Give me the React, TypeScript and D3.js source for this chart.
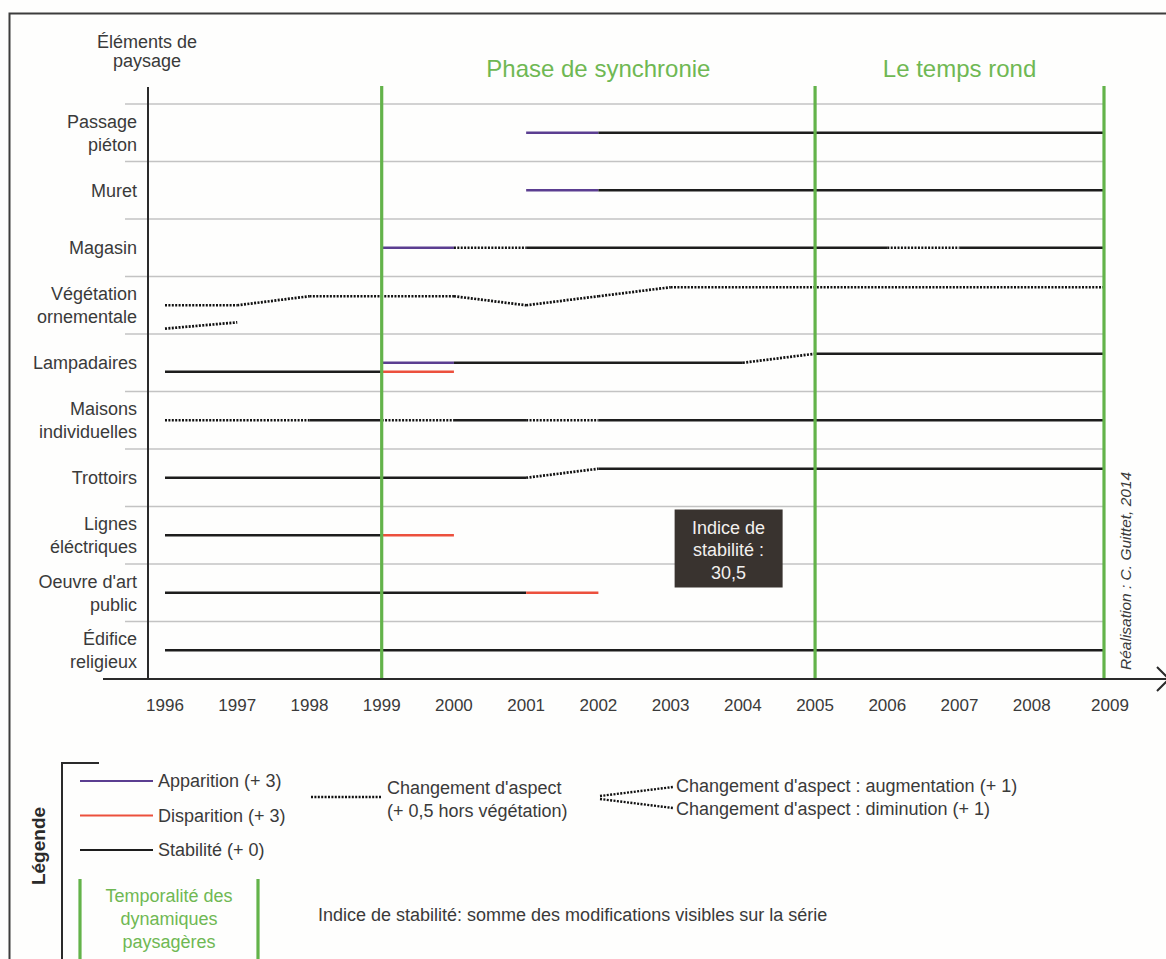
import React from 'react';
import * as d3 from 'd3';

// Timeline (tick labels)
const YEARS = [1996, 1997, 1998, 1999, 2000, 2001, 2002, 2003, 2004, 2005, 2006, 2007, 2008, 2009];

// Landscape elements, one row each (label split on lines)
const ELEMENTS = [
  ['Passage', 'piéton'],
  ['Muret'],
  ['Magasin'],
  ['Végétation', 'ornementale'],
  ['Lampadaires'],
  ['Maisons', 'individuelles'],
  ['Trottoirs'],
  ['Lignes', 'éléctriques'],
  ["Oeuvre d'art", 'public'],
  ['Édifice', 'religieux'],
];

// Phases bounded by the green lines
const PHASES = [
  { label: 'Phase de synchronie', from: 1999, to: 2005 },
  { label: 'Le temps rond', from: 2005, to: 2009 },
];

// [row, fromYear, toYear, kind, levelStart, levelEnd]
// kind: app = apparition, dis = disparition, stab = stabilité, asp = changement d'aspect
const SEGMENTS: [number, number, number, string, number, number][] = [
  [0, 2001, 2002, 'app', 0, 0],
  [0, 2002, 2009, 'stab', 0, 0],
  [1, 2001, 2002, 'app', 0, 0],
  [1, 2002, 2009, 'stab', 0, 0],
  [2, 1999, 2000, 'app', 0, 0],
  [2, 2000, 2001, 'asp', 0, 0],
  [2, 2001, 2006, 'stab', 0, 0],
  [2, 2006, 2007, 'asp', 0, 0],
  [2, 2007, 2009, 'stab', 0, 0],
  [3, 1996, 1997, 'asp', 0, 0],
  [3, 1997, 1998, 'asp', 0, 1],
  [3, 1998, 2000, 'asp', 1, 1],
  [3, 2000, 2001, 'asp', 1, 0],
  [3, 2001, 2002, 'asp', 0, 1],
  [3, 2002, 2003, 'asp', 1, 2],
  [3, 2003, 2009, 'asp', 2, 2],
  [3, 1996, 1997, 'asp', -2.6, -1.9],
  [4, 1996, 1999, 'stab', -1, -1],
  [4, 1999, 2000, 'app', 0, 0],
  [4, 1999, 2000, 'dis', -1, -1],
  [4, 2000, 2004, 'stab', 0, 0],
  [4, 2004, 2005, 'asp', 0, 1],
  [4, 2005, 2009, 'stab', 1, 1],
  [5, 1996, 1998, 'asp', 0, 0],
  [5, 1998, 1999, 'stab', 0, 0],
  [5, 1999, 2000, 'asp', 0, 0],
  [5, 2000, 2001, 'stab', 0, 0],
  [5, 2001, 2002, 'asp', 0, 0],
  [5, 2002, 2009, 'stab', 0, 0],
  [6, 1996, 2001, 'stab', 0, 0],
  [6, 2001, 2002, 'asp', 0, 1],
  [6, 2002, 2009, 'stab', 1, 1],
  [7, 1996, 1999, 'stab', 0, 0],
  [7, 1999, 2000, 'dis', 0, 0],
  [8, 1996, 2001, 'stab', 0, 0],
  [8, 2001, 2002, 'dis', 0, 0],
  [9, 1996, 2009, 'stab', 0, 0],
];

const LEGEND_ITEMS = [
  { kind: 'app', label: 'Apparition (+ 3)' },
  { kind: 'dis', label: 'Disparition (+ 3)' },
  { kind: 'stab', label: 'Stabilité (+ 0)' },
];

const STABILITY_INDEX = 30.5;

const W = 1166;
const H = 959;
const FONT = '"Liberation Sans", Arial, Helvetica, sans-serif';
const TEXT = '#3a3a3a';
const GREEN_LINE = '#63b34a';
const GREEN_TEXT = '#6fb853';
const COLORS: Record<string, string> = {
  app: '#5b3e91',
  dis: '#ec503d',
  stab: '#1d1d1d',
  asp: '#111111',
};
const DOTS = '2 1.4';

export default function App() {
  const x = d3.scaleLinear().domain([1996, 2009]).range([165, 1104]);
  const y = d3
    .scaleBand<string>()
    .domain(ELEMENTS.map((_, i) => String(i)))
    .range([104, 679]);
  const bw = y.bandwidth();
  const level = d3.scaleLinear().domain([-1, 1]).range([9, -9]);
  const rowY = (row: number, l: number) => (y(String(row)) as number) + bw / 2 + level(l);
  const line = d3.line<[number, number]>();

  const axisY = 679;
  const box = { x: x(2003) + 4, y: (y('7') as number) + 3, w: 108, h: 78 };

  return (
    <div style={{ position: 'absolute', left: 0, top: 0 }}>
      <svg width={W} height={H} style={{ display: 'block', background: '#fefefd' }} fontFamily={FONT}>
        {/* frame */}
        <rect x={9.5} y={13.5} width={1200} height={1000} fill="none" stroke="#3d3d3d" strokeWidth={2} />

        {/* header */}
        <text x={147} y={48} textAnchor="middle" fontSize={18} fill={TEXT}>Éléments de</text>
        <text x={147} y={67} textAnchor="middle" fontSize={18} fill={TEXT}>paysage</text>

        {/* row separators */}
        {ELEMENTS.map((_, i) => (
          <line key={'sep' + i} x1={125} x2={x(2009)} y1={y(String(i))} y2={y(String(i))} stroke="#c3c3c3" strokeWidth={1.5} />
        ))}

        {/* row labels */}
        {ELEMENTS.map((lines, i) => {
          const c = (y(String(i)) as number) + bw / 2;
          const first = lines.length === 1 ? c + 6.5 : c - 5;
          return (
            <text key={'lab' + i} textAnchor="end" fontSize={18} fill={TEXT}>
              {lines.map((t, j) => (
                <tspan key={j} x={137} y={first + j * 23}>{t}</tspan>
              ))}
            </text>
          );
        })}

        {/* segments */}
        {SEGMENTS.map(([row, a, b, kind, l0, l1], i) => (
          <path
            key={'seg' + i}
            d={line([[x(a), rowY(row, l0)], [x(b), rowY(row, l1)]]) as string}
            stroke={COLORS[kind]}
            strokeWidth={kind === 'asp' ? 2.7 : 2.4}
            strokeDasharray={kind === 'asp' ? DOTS : undefined}
            fill="none"
          />
        ))}

        {/* phases */}
        {Array.from(new Set(PHASES.flatMap((p) => [p.from, p.to]))).map((yr) => (
          <line key={'g' + yr} x1={x(yr)} x2={x(yr)} y1={86} y2={axisY} stroke={GREEN_LINE} strokeWidth={3.2} />
        ))}
        {PHASES.map((p) => (
          <text key={p.label} x={(x(p.from) + x(p.to)) / 2} y={77} textAnchor="middle" fontSize={24} fill={GREEN_TEXT}>
            {p.label}
          </text>
        ))}

        {/* axes */}
        <line x1={148} x2={148} y1={87} y2={axisY} stroke="#2a2a2a" strokeWidth={2} />
        <line x1={103} x2={1168} y1={axisY} y2={axisY} stroke="#2a2a2a" strokeWidth={2} />
        <path d={`M1157,${axisY - 12} L1169,${axisY} L1157,${axisY + 12}`} fill="none" stroke="#2a2a2a" strokeWidth={2} />
        {YEARS.map((yr) => (
          <text key={'y' + yr} x={x(yr) + (yr === 2009 ? 6 : 0)} y={711} textAnchor="middle" fontSize={17} fill={TEXT}>
            {yr}
          </text>
        ))}

        {/* stability index box */}
        <rect x={box.x} y={box.y} width={box.w} height={box.h} fill="#39332f" />
        {['Indice de', 'stabilité :', d3.format('.1f')(STABILITY_INDEX).replace('.', ',')].map((t, j) => (
          <text key={'bx' + j} x={box.x + box.w / 2} y={box.y + 24 + j * 22.5} textAnchor="middle" fontSize={18} fill="#f2f0ee">
            {t}
          </text>
        ))}

        {/* credit */}
        <text transform="translate(1131,670) rotate(-90)" fontSize={15.5} fontStyle="italic" fill={TEXT}>
          Réalisation : C. Guittet, 2014
        </text>

        {/* legend */}
        <path d="M62,960 L62,763 L99,763" fill="none" stroke="#2a2a2a" strokeWidth={2} />
        <text transform="translate(45,846) rotate(-90)" textAnchor="middle" fontSize={19} fontWeight="bold" fill="#2a2a2a">
          Légende
        </text>
        {LEGEND_ITEMS.map((it, i) => {
          const ly = 781 + i * 34.5;
          return (
            <g key={it.kind}>
              <line x1={80} x2={153} y1={ly} y2={ly} stroke={COLORS[it.kind]} strokeWidth={2} />
              <text x={158} y={ly + 6} fontSize={18} fill={TEXT}>{it.label}</text>
            </g>
          );
        })}
        <line x1={311} x2={381} y1={797} y2={797} stroke={COLORS.asp} strokeWidth={2.4} strokeDasharray={DOTS} />
        <text x={387} y={794} fontSize={18} fill={TEXT}>Changement d'aspect</text>
        <text x={387} y={817} fontSize={18} fill={TEXT}>(+ 0,5 hors végétation)</text>
        <line x1={600} x2={673} y1={796} y2={787} stroke={COLORS.asp} strokeWidth={2.4} strokeDasharray={DOTS} />
        <line x1={600} x2={673} y1={799} y2={808} stroke={COLORS.asp} strokeWidth={2.4} strokeDasharray={DOTS} />
        <text x={676} y={792} fontSize={18} fill={TEXT}>Changement d'aspect : augmentation (+ 1)</text>
        <text x={676} y={815} fontSize={18} fill={TEXT}>Changement d'aspect : diminution (+ 1)</text>

        <line x1={80} x2={80} y1={879} y2={960} stroke={GREEN_LINE} strokeWidth={3.2} />
        <line x1={258} x2={258} y1={879} y2={960} stroke={GREEN_LINE} strokeWidth={3.2} />
        {['Temporalité des', 'dynamiques', 'paysagères'].map((t, j) => (
          <text key={'gl' + j} x={169} y={902 + j * 23} textAnchor="middle" fontSize={18} fill={GREEN_TEXT}>{t}</text>
        ))}
        <text x={318} y={921} fontSize={18} fill={TEXT}>
          Indice de stabilité: somme des modifications visibles sur la série
        </text>
      </svg>
    </div>
  );
}
